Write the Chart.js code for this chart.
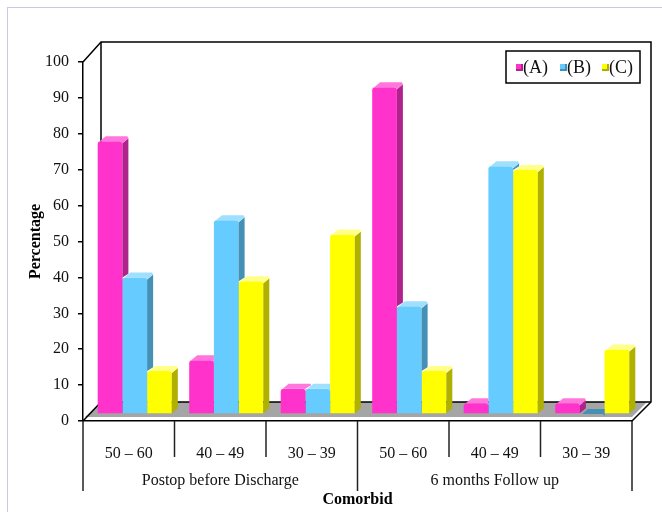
<!DOCTYPE html>
<html>
<head>
<meta charset="utf-8">
<script src="https://cdn.jsdelivr.net/npm/chart.js@4.4.1/dist/chart.umd.min.js"></script>
<style>
  body { margin: 0; background: #fff; }
  #wrap { width: 662px; height: 512px; }
</style>
</head>
<body>
<div id="wrap"><canvas id="chart" width="662" height="512"></canvas></div>
<script>
// Datos
const categorias = ['50 – 60', '40 – 49', '30 – 39', '50 – 60', '40 – 49', '30 – 39'];
const grupos = ['Postop before Discharge', '6 months Follow up'];
const serieA = [76, 15, 7, 91, 3, 3];
const serieB = [38, 54, 7, 30, 69, 0];
const serieC = [12, 37, 50, 12, 68, 18];
const nombresSeries = ['(A)', '(B)', '(C)'];

const FUENTE = "'Liberation Serif', 'Times New Roman', serif";
const colores = [
    { frente: '#FF33CC', lado: '#B0238C', tapa: '#FF77DD' },
    { frente: '#66CCFF', lado: '#4590B5', tapa: '#A0E0FF' },
    { frente: '#FFFF00', lado: '#B0B000', tapa: '#FFFF8A' }
];

// profundidad de la caja y de las barras
const PROF_X = 18, PROF_Y = -19;
const BARRA_X = 6, BARRA_Y = -5;
const DESP_X = 6, DESP_Y = -7;

function trazar(ctx, pts) {
    ctx.moveTo(pts[0][0], pts[0][1]);
    for (let i = 1; i < pts.length; i++) ctx.lineTo(pts[i][0], pts[i][1]);
}

function linea(ctx, pts) {
    ctx.beginPath();
    trazar(ctx, pts);
    ctx.stroke();
}

function poligono(ctx, pts, color) {
    ctx.beginPath();
    trazar(ctx, pts);
    ctx.closePath();
    ctx.fillStyle = color;
    ctx.fill();
}

const caja3d = {
    id: 'caja3d',
    beforeDraw(chart) {
        const ctx = chart.ctx;
        const a = chart.chartArea;
        ctx.save();
        // marco exterior
        ctx.strokeStyle = '#C9C9E6';
        ctx.lineWidth = 1;
        ctx.strokeRect(7.5, 7.5, 700, 600);

        // suelo gris
        poligono(ctx, [
            [a.left + 2, a.bottom - 4],
            [a.right, a.bottom - 4],
            [a.right + PROF_X - 3, a.bottom + PROF_Y],
            [a.left + PROF_X, a.bottom + PROF_Y]
        ], '#A5A5A5');

        ctx.strokeStyle = '#000';
        ctx.lineWidth = 1.5;
        const bx = a.left + PROF_X, by = a.top + PROF_Y - 1;
        const rx = a.right + PROF_X + 1, fy = a.bottom + PROF_Y;
        linea(ctx, [[a.left, a.top], [bx, by], [rx, by], [rx, fy], [a.right, a.bottom]]);
        linea(ctx, [[bx, by], [bx, fy], [rx, fy]]);
        linea(ctx, [[a.left, a.bottom], [bx, fy]]);
        ctx.restore();
    },
    beforeDatasetDraw(chart) {
        chart.ctx.save();
        chart.ctx.translate(DESP_X, DESP_Y);
    },
    afterDatasetDraw(chart, args) {
        const ctx = chart.ctx;
        const c = colores[args.index];
        const sig = args.index < 2 ? chart.getDatasetMeta(args.index + 1) : null;
        args.meta.data.forEach((bar, j) => {
            const p = bar.getProps(['x', 'y', 'base', 'width'], true);
            const izq = p.x - p.width / 2, der = p.x + p.width / 2;
            ctx.save();
            // la cara lateral queda detrás de la barra siguiente
            if (sig) {
                const q = sig.data[j].getProps(['x', 'y', 'base', 'width'], true);
                const qi = q.x - q.width / 2, qd = q.x + q.width / 2;
                ctx.beginPath();
                ctx.rect(-1000, -1000, 3000, 3000);
                trazar(ctx, [
                    [qi, q.base + 10], [qi, q.y], [qi + 2 + BARRA_X, q.y + BARRA_Y],
                    [qd + BARRA_X, q.y + BARRA_Y], [qd + BARRA_X, q.base + 10]
                ]);
                ctx.closePath();
                ctx.clip('evenodd');
            }
            poligono(ctx, [
                [der, p.y + 2], [der + BARRA_X, p.y + BARRA_Y + 2],
                [der + BARRA_X, p.base + BARRA_Y], [der, p.base]
            ], c.lado);
            poligono(ctx, [
                [izq + 2, p.y], [izq + 2 + BARRA_X, p.y + BARRA_Y],
                [der + BARRA_X - 1, p.y + BARRA_Y], [der + BARRA_X, p.y + BARRA_Y + 2],
                [der, p.y + 2], [der - 2, p.y]
            ], p.base - p.y < 1 ? c.lado : c.tapa);
            ctx.restore();
        });
        ctx.restore();
    },
    afterDraw(chart) {
        const ctx = chart.ctx;
        const a = chart.chartArea;
        const x = chart.scales.x;
        ctx.save();
        ctx.strokeStyle = '#222';
        ctx.lineWidth = 1.5;
        // divisiones del eje de categorías
        for (let i = 0; i <= categorias.length; i++) {
            const px = x.left + i * (x.width / categorias.length);
            const largo = (i % 3 === 0) ? 70 : 36;
            linea(ctx, [[px, a.bottom], [px, a.bottom + largo]]);
        }
        // etiquetas de grupo
        ctx.fillStyle = '#111';
        ctx.font = '16px ' + FUENTE;
        ctx.textAlign = 'center';
        ctx.textBaseline = 'middle';
        grupos.forEach((g, i) => {
            const cx = (x.getPixelForValue(i * 3) + x.getPixelForValue(i * 3 + 2)) / 2;
            ctx.fillText(g, cx, a.bottom + 60);
        });

        // leyenda
        ctx.strokeStyle = '#000';
        ctx.lineWidth = 1.5;
        ctx.strokeRect(506, 51, 134, 32);
        ctx.textAlign = 'left';
        ctx.font = '18px ' + FUENTE;
        const posX = [516, 560, 602];
        nombresSeries.forEach((n, i) => {
            const c = colores[i];
            ctx.fillStyle = c.frente;
            ctx.fillRect(posX[i], 64, 7, 7);
            ctx.fillStyle = c.lado;
            ctx.fillRect(posX[i] + 5, 64, 2, 7);
            ctx.fillRect(posX[i], 69, 7, 2);
            ctx.fillStyle = '#111';
            ctx.fillText(n, posX[i] + 7, 68);
        });
        ctx.restore();
    }
};

const ctx = document.getElementById('chart').getContext('2d');
new Chart(ctx, {
    type: 'bar',
    data: {
        labels: categorias,
        datasets: [serieA, serieB, serieC].map((d, i) => ({
            label: nombresSeries[i],
            data: d,
            backgroundColor: colores[i].frente,
            borderWidth: 0,
            borderRadius: { topLeft: 3, topRight: 3 },
            borderSkipped: 'bottom',
            categoryPercentage: 0.81,
            barPercentage: 1
        }))
    },
    options: {
        responsive: false,
        animation: false,
        events: [],
        layout: { padding: { left: 7, right: 30, top: 62, bottom: 0 } },
        plugins: { legend: { display: false }, tooltip: { enabled: false } },
        scales: {
            x: {
                grid: { display: false },
                border: { display: true, color: '#000', width: 1.5 },
                ticks: { color: '#111', font: { family: FUENTE, size: 16 }, padding: 15, maxRotation: 0 },
                title: { display: true, text: 'Comorbid', color: '#000', font: { family: FUENTE, size: 16, weight: 'bold' }, padding: { top: 0, bottom: 3 } },
                afterFit(s) { s.height = 91; }
            },
            y: {
                min: 0,
                max: 100,
                ticks: { stepSize: 10, color: '#111', font: { family: FUENTE, size: 16 }, padding: 9 },
                grid: { drawOnChartArea: false, drawTicks: true, tickLength: 5, color: '#000', lineWidth: 1.5 },
                border: { display: true, color: '#000', width: 1.5 },
                title: { display: true, text: 'Percentage', color: '#000', font: { family: FUENTE, size: 16, weight: 'bold' }, padding: { top: 19, bottom: 0 } },
                afterFit(s) { s.width = 76; }
            }
        }
    },
    plugins: [caja3d]
});
</script>
</body>
</html>
